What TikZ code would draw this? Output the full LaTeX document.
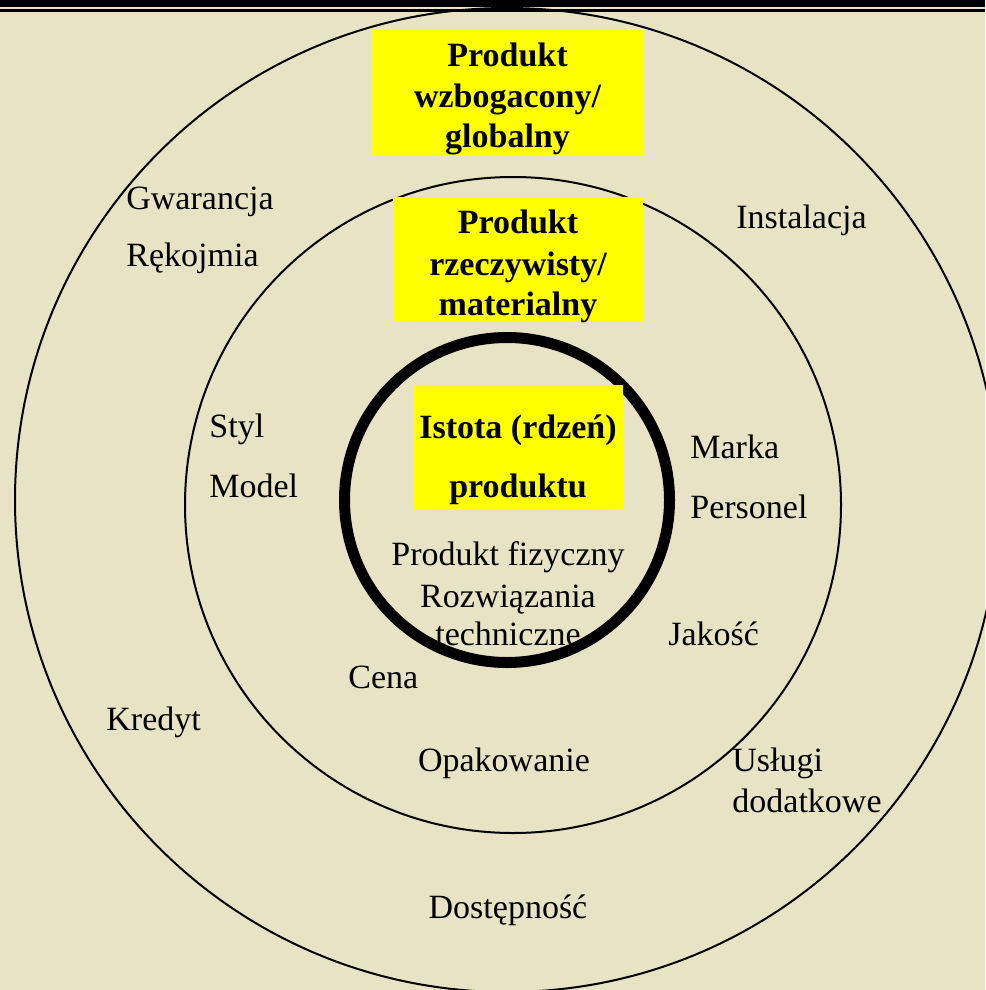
\documentclass[tikz,border=0pt]{standalone}
\usepackage{fontspec}
\setmainfont{Liberation Serif}
\definecolor{paper}{HTML}{E9E3C5}
\definecolor{marker}{HTML}{FFFF00}

\begin{document}
\begin{tikzpicture}[x=0.5pt,y=-0.5pt,
  font=\fontsize{17}{20}\selectfont,
  lbl/.style={inner sep=0pt,anchor=base west},
  ctr/.style={inner sep=0pt,anchor=base},
  bold/.style={ctr,font=\fontsize{17}{20}\selectfont\bfseries},
  hilite/.style={fill=marker,draw=none,inner sep=0pt,minimum height=62.5pt}]
  \fill[paper] (0,0) rectangle (985,990);
  \useasboundingbox (0,0) rectangle (985,990);

  % outer ring
  \node[lbl] (gwar) at (126,209) {Gwarancja};
  \node[lbl] (rekoj) at (126,266) {Rękojmia};
  \node[lbl] (inst) at (736,228) {Instalacja};
  \node[lbl] (kredyt) at (106,730) {Kredyt};
  \node[lbl] (uslugi) at (732,771) {Usługi};
  \node[lbl] (dodat) at (732,812) {dodatkowe};
  \node[ctr] (dost) at (508,918) {Dostępność};

  % middle ring
  \node[lbl] (styl) at (209,437) {Styl};
  \node[lbl] (model) at (209,497) {Model};
  \node[lbl] (marka) at (690,458) {Marka};
  \node[lbl] (pers) at (690,518) {Personel};
  \node[lbl] (jakosc) at (668,645) {Jakość};
  \node[lbl] (cena) at (348,688) {Cena};
  \node[ctr] (opak) at (504,771) {Opakowanie};

  % core
  \node[ctr] (fiz) at (508,565) {Produkt fizyczny};
  \node[ctr] (rozw) at (508,607) {Rozwiązania};
  \node[ctr] (tech) at (508,645) {techniczne};

  % rings
  \draw[line width=1pt] (507,500) circle (492);
  \draw[line width=1pt] (513,505) circle (328);
  \draw[line width=5.5pt] (507,500) circle (162.5);

  % header bar
  \fill[black] (0,0) rectangle (985,7);
  \draw[line width=1.3pt] (0,10.5) -- (985,10.5);

  % yellow titles
  \node[hilite,minimum width=135.5pt] (glob) at (507.5,92.5) {};
  \begin{scope}
    \clip (glob.north west) rectangle (glob.south east);
    \node[bold] (glob1) at (507.5,67) {Produkt};
    \node[bold] (glob2) at (507.5,108) {wzbogacony/};
    \node[bold] (glob3) at (507.5,148) {globalny};
  \end{scope}

  \node[hilite,minimum width=125pt] (rzecz) at (518,259.5) {};
  \begin{scope}
    \clip (rzecz.north west) rectangle (rzecz.south east);
    \node[bold] (rzecz1) at (518,233) {Produkt};
    \node[bold] (rzecz2) at (518,275) {rzeczywisty/};
    \node[bold] (rzecz3) at (518,315) {materialny};
  \end{scope}

  \node[hilite,minimum width=105pt] (rdzen) at (518,447.5) {};
  \node[bold] (rdzen1) at (518,438) {Istota (rdzeń)};
  \node[bold] (rdzen2) at (518,497) {produktu};
\end{tikzpicture}
\end{document}
